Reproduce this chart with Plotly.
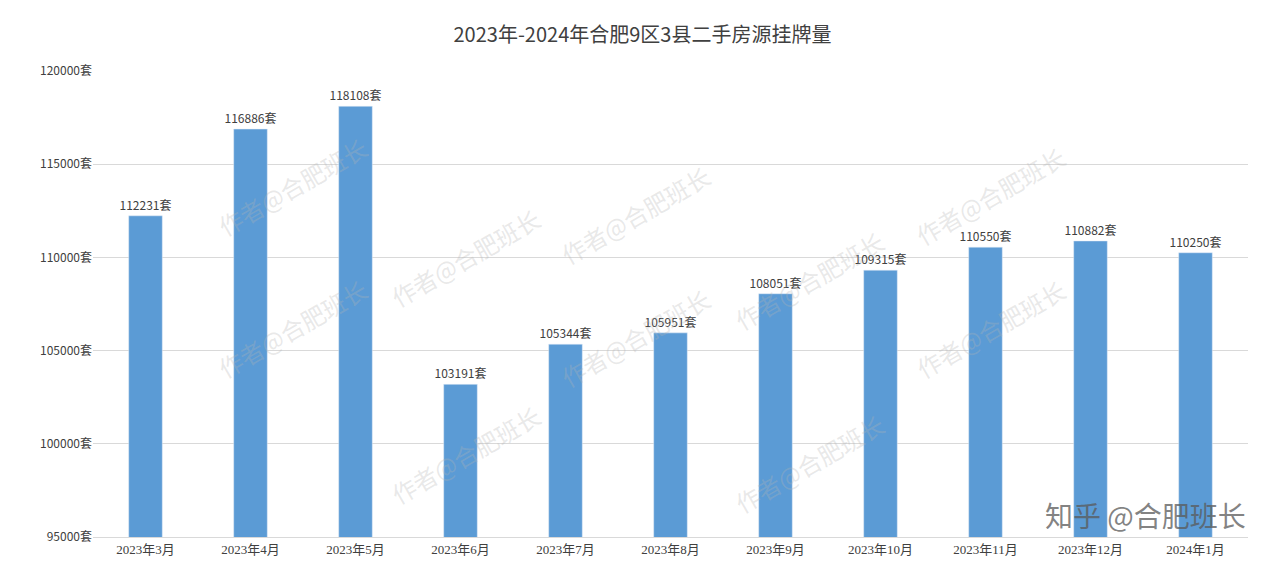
import plotly.graph_objects as go

categories = ["2023年3月","2023年4月","2023年5月","2023年6月","2023年7月","2023年8月","2023年9月","2023年10月","2023年11月","2023年12月","2024年1月"]
values = [112231,116886,118108,103191,105344,105951,108051,109315,110550,110882,110250]
tick_vals = [95000,100000,105000,110000,115000,120000]
tick_text = [f"{v}套" for v in tick_vals]

font = "Noto Sans CJK SC"
fig = go.Figure(go.Bar(
    x=categories, y=values, width=0.32, marker_color="#5b9bd5",
    text=[f"{v}套" for v in values], textposition="outside", constraintext="none",
    textfont=dict(size=12, color="#404040", family=font), cliponaxis=False))

annotations = []
wm = [(0.1,0.88),(0.47,0.82),(0.85,0.86),(0.25,0.6),(0.62,0.55),
      (0.1,0.32),(0.47,0.3),(0.85,0.32),(0.25,0.05),(0.62,0.03)]
for x, y in wm:
    annotations.append(dict(x=x, y=y, xref="paper", yref="paper", text="作者@合肥班长",
                            showarrow=False, textangle=-30,
                            font=dict(size=24, color="rgba(180,180,180,0.3)", family=font)))
annotations.append(dict(x=1.0, y=0.0, xref="paper", yref="paper", xanchor="right", yanchor="bottom",
                        text="知乎 @合肥班长", showarrow=False,
                        font=dict(size=28, color="rgba(90,90,90,0.75)", family=font)))

fig.update_layout(
    width=1269, height=583, plot_bgcolor="white", paper_bgcolor="white",
    margin=dict(l=85, r=29, t=63, b=54),
    title=dict(text="2023年-2024年合肥9区3县二手房源挂牌量", x=0.5, y=0.965, xanchor="center",
               font=dict(size=20, color="#404040", family=font)),
    xaxis=dict(tickfont=dict(size=13, color="#404040", family="Liberation Serif, " + font), showline=True,
               linecolor="#d9d9d9", ticks=""),
    yaxis=dict(range=[95000,120000], tickvals=tick_vals, ticktext=tick_text,
               tickfont=dict(size=12, color="#404040", family=font),
               gridcolor="#d9d9d9", zeroline=False),
    annotations=annotations, showlegend=False)
fig.write_html("out.html")
